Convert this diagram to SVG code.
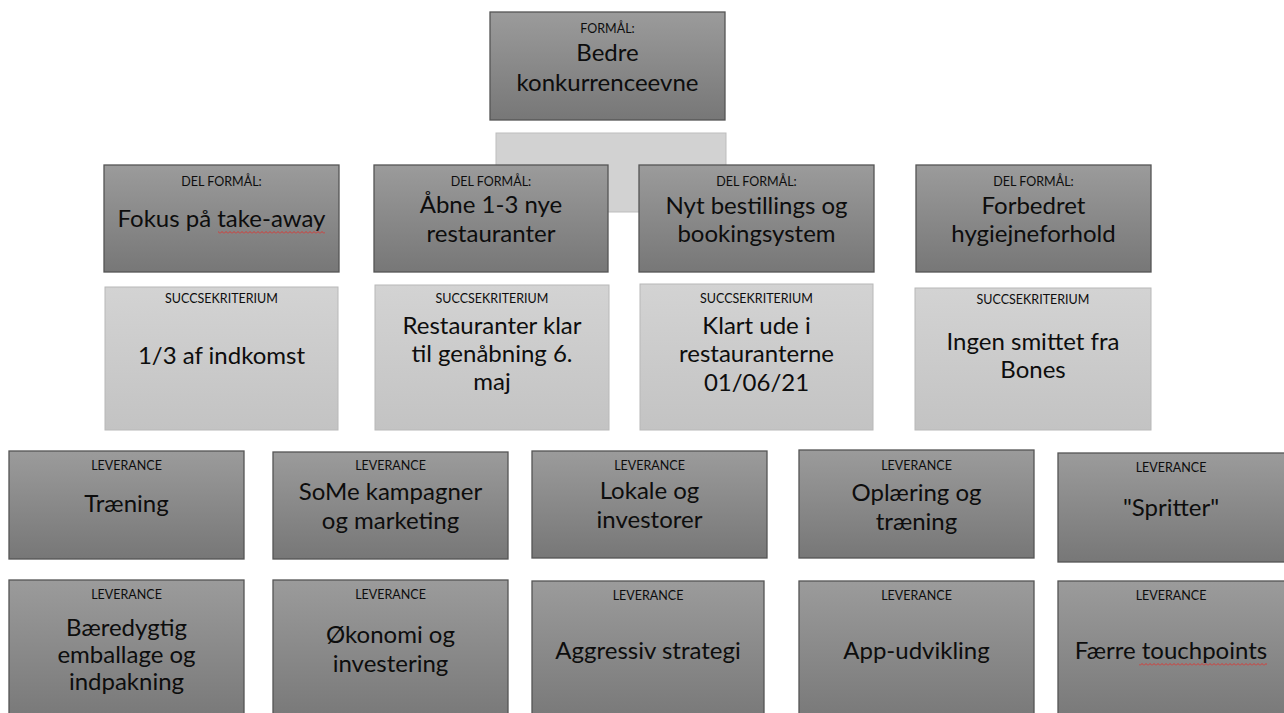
<svg xmlns="http://www.w3.org/2000/svg" width="1284" height="713" viewBox="0 0 1284 713">
<defs>
<linearGradient id="gDark" x1="0" y1="0" x2="0" y2="1">
<stop offset="0" stop-color="#9b9b9b"/>
<stop offset="1" stop-color="#777777"/>
</linearGradient>
<linearGradient id="gLight" x1="0" y1="0" x2="0" y2="1">
<stop offset="0" stop-color="#d3d3d3"/>
<stop offset="1" stop-color="#c3c3c3"/>
</linearGradient>
<pattern id="wavy" width="4" height="3" patternUnits="userSpaceOnUse">
<path d="M0 2.5 L2 0.5 L4 2.5" fill="none" stroke="#e0312b" stroke-width="0.9"/>
</pattern>
<style>
.dark{fill:url(#gDark);stroke:#555;stroke-width:1.3}
.light{fill:url(#gLight);stroke:#b8b8b8;stroke-width:1}
.bg{fill:#d2d2d2;stroke:#bdbdbd;stroke-width:1}
text{font-family:Lato,"Liberation Sans",sans-serif;fill:#0d0d0d;text-anchor:middle}
.lbl{font-size:12.5px}
.big{font-size:24px}
</style>
</defs>
<rect width="1284" height="713" fill="#fff"/>
<g id="connectors"/>
<g id="bg-box"><rect class="bg" x="496" y="133" width="230" height="79"/></g>
<g id="formaal">
<rect class="dark" x="490" y="12" width="235" height="108"/>
<text class="lbl" x="607.5" y="33">FORMÅL:</text>
<text class="big" x="607.5" y="61">Bedre</text>
<text class="big" x="607.5" y="91">konkurrenceevne</text>
</g>
<g id="del1">
<rect class="dark" x="104" y="165" width="235" height="107"/>
<text class="lbl" x="221.5" y="186">DEL FORMÅL:</text>
<text class="big" x="221.5" y="227">Fokus på take-away</text>
<rect x="218" y="231" width="107" height="3" fill="url(#wavy)"/>
</g>
<g id="del2">
<rect class="dark" x="374" y="165" width="234" height="107"/>
<text class="lbl" x="491" y="186">DEL FORMÅL:</text>
<text class="big" x="491" y="213">Åbne 1-3 nye</text>
<text class="big" x="491" y="242">restauranter</text>
</g>
<g id="del3">
<rect class="dark" x="639" y="165" width="235" height="107"/>
<text class="lbl" x="756.5" y="186">DEL FORMÅL:</text>
<text class="big" x="756.5" y="214">Nyt bestillings og</text>
<text class="big" x="756.5" y="242">bookingsystem</text>
</g>
<g id="del4">
<rect class="dark" x="916" y="165" width="235" height="107"/>
<text class="lbl" x="1033.5" y="186">DEL FORMÅL:</text>
<text class="big" x="1033.5" y="214">Forbedret</text>
<text class="big" x="1033.5" y="242">hygiejneforhold</text>
</g>
<g id="succ1">
<rect class="light" x="105" y="287" width="233" height="143"/>
<text class="lbl" x="221.5" y="303">SUCCSEKRITERIUM</text>
<text class="big" x="221.5" y="364">1/3 af indkomst</text>
</g>
<g id="succ2">
<rect class="light" x="375" y="285" width="234" height="145"/>
<text class="lbl" x="492" y="303">SUCCSEKRITERIUM</text>
<text class="big" x="492" y="334">Restauranter klar</text>
<text class="big" x="492" y="362">til genåbning 6.</text>
<text class="big" x="492" y="390">maj</text>
</g>
<g id="succ3">
<rect class="light" x="640" y="284" width="233" height="146"/>
<text class="lbl" x="756.5" y="303">SUCCSEKRITERIUM</text>
<text class="big" x="756.5" y="334">Klart ude i</text>
<text class="big" x="756.5" y="362">restauranterne</text>
<text class="big" x="756.5" y="391">01/06/21</text>
</g>
<g id="succ4">
<rect class="light" x="915" y="288" width="236" height="142"/>
<text class="lbl" x="1033" y="304">SUCCSEKRITERIUM</text>
<text class="big" x="1033" y="350">Ingen smittet fra</text>
<text class="big" x="1033" y="378">Bones</text>
</g>
<g id="lev1">
<rect class="dark" x="9" y="451" width="235" height="108"/>
<text class="lbl" x="126.5" y="470">LEVERANCE</text>
<text class="big" x="126.5" y="512">Træning</text>
</g>
<g id="lev2">
<rect class="dark" x="273" y="452" width="235" height="107"/>
<text class="lbl" x="390.5" y="470">LEVERANCE</text>
<text class="big" x="390.5" y="500">SoMe kampagner</text>
<text class="big" x="390.5" y="529">og marketing</text>
</g>
<g id="lev3">
<rect class="dark" x="532" y="451" width="235" height="107"/>
<text class="lbl" x="649.5" y="470">LEVERANCE</text>
<text class="big" x="649.5" y="499">Lokale og</text>
<text class="big" x="649.5" y="528">investorer</text>
</g>
<g id="lev4">
<rect class="dark" x="799" y="450" width="235" height="108"/>
<text class="lbl" x="916.5" y="470">LEVERANCE</text>
<text class="big" x="916.5" y="501">Oplæring og</text>
<text class="big" x="916.5" y="530">træning</text>
</g>
<g id="lev5">
<rect class="dark" x="1058" y="453" width="240" height="109"/>
<text class="lbl" x="1171" y="472">LEVERANCE</text>
<text class="big" x="1171" y="516">"Spritter"</text>
</g>
<g id="lev6">
<rect class="dark" x="9" y="580" width="235" height="145"/>
<text class="lbl" x="126.5" y="599">LEVERANCE</text>
<text class="big" x="126.5" y="636">Bæredygtig</text>
<text class="big" x="126.5" y="663">emballage og</text>
<text class="big" x="126.5" y="690">indpakning</text>
</g>
<g id="lev7">
<rect class="dark" x="273" y="580" width="235" height="145"/>
<text class="lbl" x="390.5" y="599">LEVERANCE</text>
<text class="big" x="390.5" y="643">Økonomi og</text>
<text class="big" x="390.5" y="672">investering</text>
</g>
<g id="lev8">
<rect class="dark" x="532" y="581" width="232" height="145"/>
<text class="lbl" x="648" y="600">LEVERANCE</text>
<text class="big" x="648" y="659">Aggressiv strategi</text>
</g>
<g id="lev9">
<rect class="dark" x="799" y="581" width="235" height="145"/>
<text class="lbl" x="916.5" y="600">LEVERANCE</text>
<text class="big" x="916.5" y="659">App-udvikling</text>
</g>
<g id="lev10">
<rect class="dark" x="1058" y="581" width="240" height="145"/>
<text class="lbl" x="1171" y="600">LEVERANCE</text>
<text class="big" x="1171" y="659">Færre touchpoints</text>
<rect x="1139" y="663" width="128" height="3" fill="url(#wavy)"/>
</g>
</svg>
